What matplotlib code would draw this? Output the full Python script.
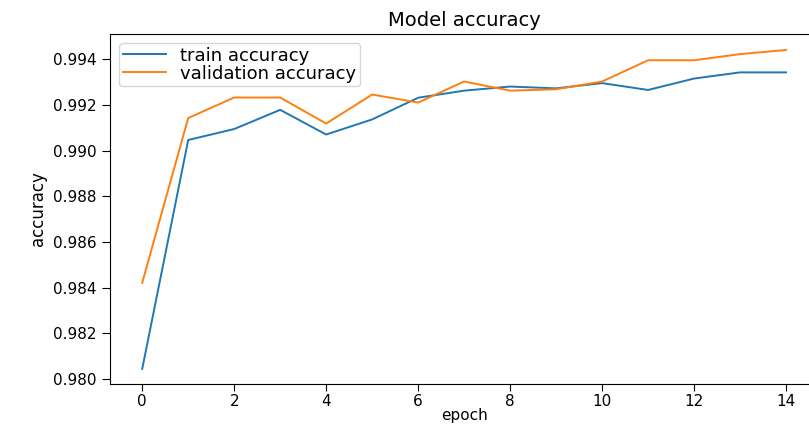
import matplotlib
matplotlib.use("Agg")
import matplotlib.pyplot as plt
from matplotlib import font_manager

epochs = list(range(15))
train_acc = [0.98044, 0.99046, 0.99094, 0.99178, 0.99070, 0.99136, 0.99231, 0.99262,
             0.99280, 0.99272, 0.99295, 0.99265, 0.99315, 0.99342, 0.99342]
val_acc = [0.98421, 0.99142, 0.99232, 0.99232, 0.99118, 0.99245, 0.99210, 0.99302,
           0.99262, 0.99268, 0.99302, 0.99395, 0.99395, 0.99422, 0.99440]
yticks = [0.980, 0.982, 0.984, 0.986, 0.988, 0.990, 0.992, 0.994]

installed = {f.name for f in font_manager.fontManager.ttflist}
ylabel_font = "Liberation Sans Narrow" if "Liberation Sans Narrow" in installed else "DejaVu Sans"

fig = plt.figure(figsize=(8.09, 4.25), dpi=100)
# plot area runs a bit past the right edge, like the cropped original
ax = fig.add_axes([0.136, 0.0965, 0.8754, 0.8235])

ax.plot(epochs, train_acc, label="train accuracy", linewidth=1.4)
ax.plot(epochs, val_acc, label="validation accuracy", linewidth=1.4)

ax.set_xlim(-0.7, 14.7)
ax.set_ylim(0.97978, 0.99510)
ax.set_xticks(range(0, 15, 2))
ax.set_yticks(yticks)
ax.set_yticklabels([f"{v:.3f}" for v in yticks])
ax.tick_params(axis="y", labelsize=11, length=6, pad=4)
ax.tick_params(axis="x", labelsize=11, length=5, pad=2.5)

ax.set_title("Model accuracy", fontsize=14)
ax.set_xlabel("epoch", fontsize=11, labelpad=-1)
ax.set_ylabel("accuracy", fontsize=12, family=ylabel_font)

ax.legend(loc="upper left", fontsize=13, borderpad=0.2, labelspacing=0.0,
          handlelength=2.4)

fig.savefig("out.png", dpi=100)
